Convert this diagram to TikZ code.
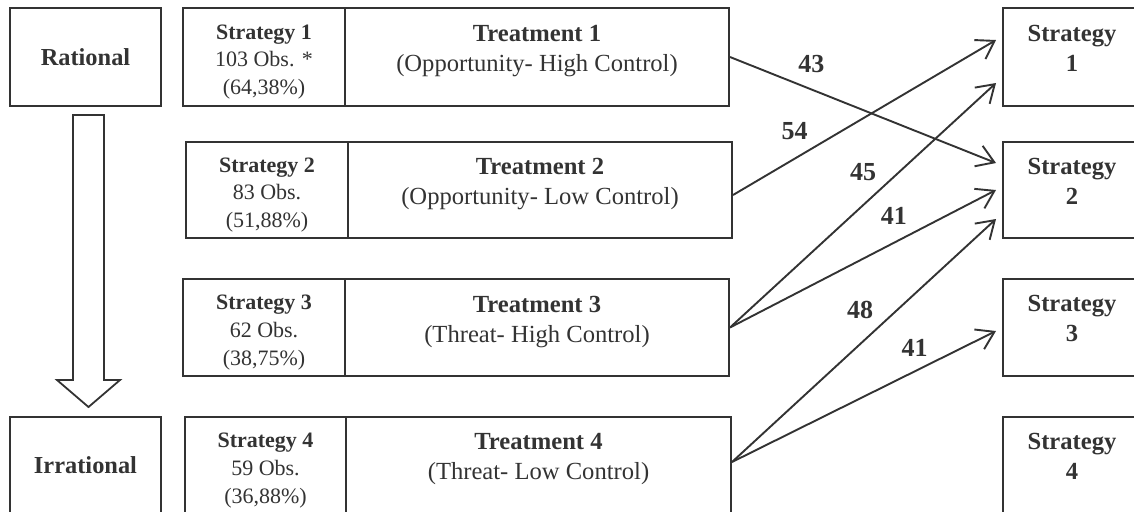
\documentclass[tikz,border=0pt]{standalone}
\usepackage{fontspec}
\setmainfont{Liberation Serif}
\usetikzlibrary{arrows.meta}

\tikzset{
  box/.style={rectangle, draw=black!80, line width=1pt, inner sep=1pt, text=black!80},
  side/.style={box, minimum width=75.5pt, minimum height=49pt, font=\fontsize{12.2}{14.5}\selectfont\bfseries},
  strat/.style={box, minimum width=81pt, minimum height=49pt},
  stext/.style={align=center, text=black!80, yshift=-2.5pt, font=\fontsize{11}{13.8}\selectfont},
  treat/.style={box, minimum width=192pt, minimum height=49pt},
  goal/.style={box, minimum width=69pt, minimum height=49pt},
  intext/.style={align=center, text=black!80, yshift=3pt, font=\fontsize{12.3}{15}\selectfont},
  gtext/.style={intext, yshift=1.5pt, font=\fontsize{12.3}{15}\selectfont\bfseries},
  flow/.style={draw=black!80, line width=0.95pt, -{Straight Barb[length=8.5pt,width=11pt]}},
  num/.style={font=\fontsize{13}{14}\selectfont\bfseries, text=black!80}
}

\begin{document}
\begin{tikzpicture}[x=0.5pt,y=-0.5pt]
  \useasboundingbox (0,0) rectangle (1134,511);

  % left side
  \node [side] (rat) at (85.5,57) {Rational};
  \node [side, minimum height=48.5pt] (irr) at (85.5,465.5) {Irrational};
  \draw [draw=black!80, line width=0.9pt] (73,115) -- (104,115) -- (104,380) -- (120,380)
        -- (88.5,407) -- (57,380) -- (73,380) -- cycle;

  % strategies and treatments
  \node [strat, label={[stext]center:{\textbf{Strategy 1}\\103 Obs. *\\(64,38\%)}}] (s1) at (264,57) {};
  \node [treat, label={[intext]center:{\textbf{Treatment 1}\\(Opportunity- High Control)}}] (t1) at (537,57) {};

  \node [strat, minimum height=48pt, label={[stext]center:{\textbf{Strategy 2}\\83 Obs.\\(51,88\%)}}] (s2) at (267,190) {};
  \node [treat, minimum height=48pt, label={[intext]center:{\textbf{Treatment 2}\\(Opportunity- Low Control)}}] (t2) at (540,190) {};

  \node [strat, minimum height=48.5pt, label={[stext]center:{\textbf{Strategy 3}\\62 Obs.\\(38,75\%)}}] (s3) at (264,327.5) {};
  \node [treat, minimum height=48.5pt, label={[intext]center:{\textbf{Treatment 3}\\(Threat- High Control)}}] (t3) at (537,327.5) {};

  \node [strat, minimum width=80.5pt, minimum height=48.5pt, label={[stext]center:{\textbf{Strategy 4}\\59 Obs.\\(36,88\%)}}] (s4) at (265.5,465.5) {};
  \node [treat, minimum width=192.5pt, minimum height=48.5pt, label={[intext]center:{\textbf{Treatment 4}\\(Threat- Low Control)}}] (t4) at (538.5,465.5) {};

  % chosen strategies
  \node [goal, label={[gtext]center:{Strategy\\1}}] (r1) at (1072,57) {};
  \node [goal, minimum height=48pt, label={[gtext]center:{Strategy\\2}}] (r2) at (1072,190) {};
  \node [goal, minimum height=48.5pt, label={[gtext]center:{Strategy\\3}}] (r3) at (1072,327.5) {};
  \node [goal, minimum height=48.5pt, label={[gtext]center:{Strategy\\4}}] (r4) at (1072,465.5) {};

  \draw[flow] (t1.east) -- ([xshift=-3pt,yshift=13.5pt]r2.west) node [num, pos=0.306, yshift=12.5pt] {43};
  \draw[flow] ([yshift=-2.5pt]t2.east) -- ([xshift=-3pt,yshift=8.5pt]r1.west) node [num, pos=0.234, yshift=14pt] {54};

  \draw[flow] (t3.east) -- ([xshift=-3pt,yshift=-13pt]r1.west) node [num, pos=0.5, yshift=16.5pt] {45};
  \draw[flow] (t3.east) -- ([xshift=-3pt]r2.west) node [num, pos=0.616, yshift=13.5pt] {41};

  \draw[flow] ([yshift=1.75pt]t4.east) -- ([xshift=-3pt,yshift=-14.5pt]r2.west) node [num, pos=0.485, yshift=17pt] {48};
  \draw[flow] ([yshift=1.75pt]t4.east) -- ([xshift=-3pt,yshift=-1.75pt]r3.west) node [num, pos=0.692, yshift=11.5pt] {41};

\end{tikzpicture}
\end{document}
